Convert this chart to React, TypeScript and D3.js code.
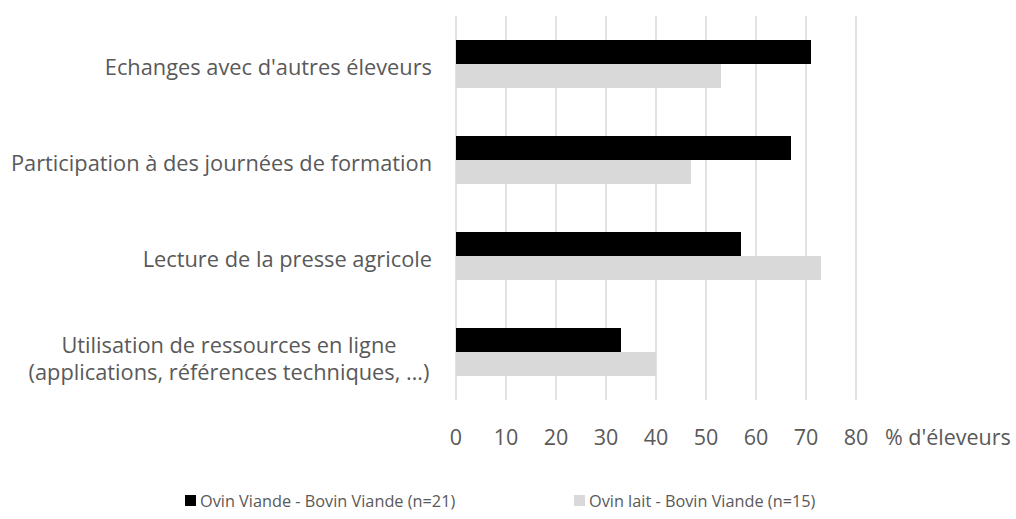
import React, { useRef, useEffect } from 'react';
import * as d3 from 'd3';

const categories = [
    ["Echanges avec d'autres éleveurs"],
    ["Participation à des journées de formation"],
    ["Lecture de la presse agricole"],
    ["Utilisation de ressources en ligne", "(applications, références techniques, …)"],
];
const ovinViande = [71, 67, 57, 33];
const ovinLait = [53, 47, 73, 40];
const seriesNames = ["Ovin Viande - Bovin Viande (n=21)", "Ovin lait - Bovin Viande (n=15)"];
const seriesColors = ["#000000", "#d9d9d9"];
const xTicks = [0, 10, 20, 30, 40, 50, 60, 70, 80];
const axisTitle = "% d'éleveurs";

const FONT = "'Open Sans', sans-serif";
const TEXT = "#595959";

const App = () => {
    const svgRef = useRef<SVGSVGElement>(null);

    useEffect(() => {
        const svg = d3.select(svgRef.current);
        svg.selectAll("*").remove();

        const x = d3.scaleLinear().domain([0, 80]).range([456, 856]);
        const y = d3.scaleBand<number>()
            .domain(d3.range(categories.length))
            .range([16, 400])
            .paddingInner(0.5)
            .paddingOuter(0.25);
        const sub = d3.scaleBand<number>().domain([0, 1]).range([0, y.bandwidth()]);

        // gridlines
        svg.append("g")
            .selectAll("line")
            .data(xTicks)
            .enter()
            .append("line")
            .attr("x1", (d) => x(d))
            .attr("x2", (d) => x(d))
            .attr("y1", 16)
            .attr("y2", 400)
            .attr("stroke", "#d9d9d9")
            .attr("stroke-width", 1.5);

        // tick labels
        svg.append("g")
            .selectAll("text")
            .data(xTicks)
            .enter()
            .append("text")
            .attr("x", (d) => x(d))
            .attr("y", 436)
            .attr("text-anchor", "middle")
            .attr("dominant-baseline", "central")
            .attr("font-family", FONT)
            .attr("font-size", 21.5)
            .attr("fill", TEXT)
            .text((d) => d);

        svg.append("text")
            .attr("x", 885)
            .attr("y", 436)
            .attr("dominant-baseline", "central")
            .attr("font-family", FONT)
            .attr("font-size", 21.5)
            .attr("fill", TEXT)
            .text(axisTitle);

        // bars
        [ovinViande, ovinLait].forEach((values, s) => {
            svg.append("g")
                .selectAll("rect")
                .data(values)
                .enter()
                .append("rect")
                .attr("x", x(0))
                .attr("y", (d, i) => y(i)! + sub(s)!)
                .attr("width", (d) => x(d) - x(0))
                .attr("height", sub.bandwidth())
                .attr("fill", seriesColors[s]);
        });

        // category labels (multi-line ones are centred on themselves)
        const lab = svg.append("g")
            .selectAll("g")
            .data(categories)
            .enter()
            .append("g");

        lab.each(function (lines, i) {
            const g = d3.select(this);
            const cy = y(i)! + y.bandwidth() / 2;
            lines.forEach((l, k) => {
                const single = lines.length === 1;
                g.append("text")
                    .attr("x", single ? 432 : 229)
                    .attr("y", single ? cy + 2 : cy - 8 + k * 27)
                    .attr("text-anchor", single ? "end" : "middle")
                    .attr("dominant-baseline", "central")
                    .attr("font-family", FONT)
                    .attr("font-size", 21.8)
                    .attr("fill", TEXT)
                    .text(l);
            });
        });

        // legend
        const legendX = [185, 574];
        seriesNames.forEach((name, s) => {
            svg.append("rect")
                .attr("x", legendX[s])
                .attr("y", 495)
                .attr("width", 11)
                .attr("height", 11)
                .attr("fill", seriesColors[s]);
            svg.append("text")
                .attr("x", legendX[s] + 15)
                .attr("y", 501)
                .attr("dominant-baseline", "central")
                .attr("font-family", FONT)
                .attr("font-size", 16.3)
                .attr("fill", TEXT)
                .text(name);
        });
    }, []);

    return (
        <div>
            <svg ref={svgRef} width={1016} height={519}
                style={{ position: "absolute", left: 0, top: 0, background: "#fff" }}></svg>
        </div>
    );
};

export default App;
